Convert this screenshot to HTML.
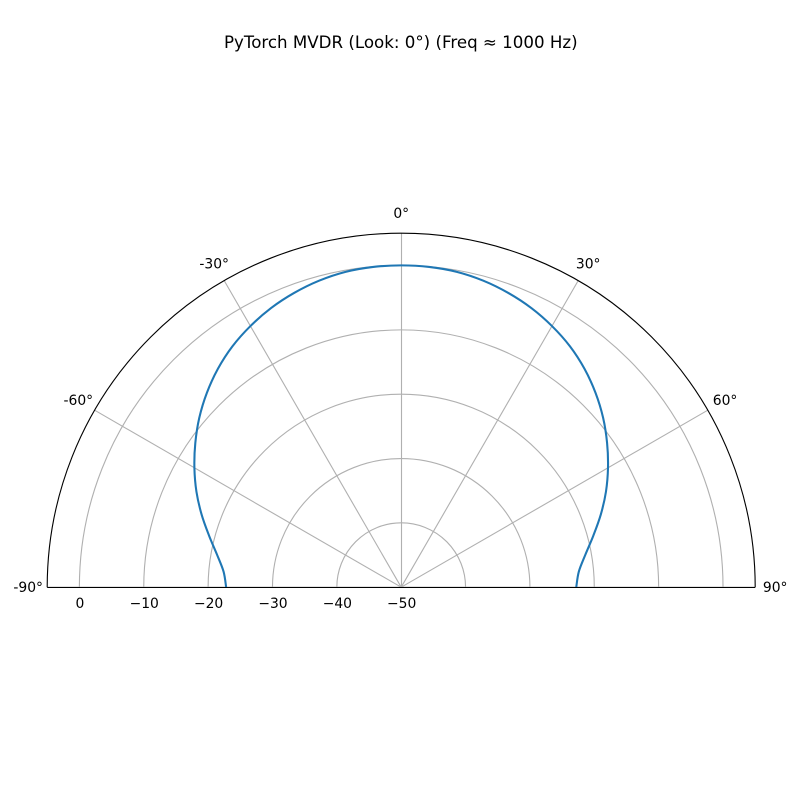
<!DOCTYPE html>
<html lang="en">
<head>
<meta charset="utf-8">
<title>PyTorch MVDR Beam Pattern</title>
<style>
html,body{margin:0;padding:0;background:#fff;width:800px;height:800px;overflow:hidden}
svg{display:block}
text{font-family:"DejaVu Sans","Liberation Sans",sans-serif;fill:#000}
</style>
</head>
<body>
<svg id="chart" xmlns="http://www.w3.org/2000/svg" width="800" height="800" viewBox="0 0 800 800">
<rect x="0" y="0" width="800" height="800" fill="#ffffff"></rect>
<text x="400.8" y="48" font-size="16.67" text-anchor="middle">PyTorch MVDR (Look: 0°) (Freq ≈ 1000 Hz)</text>
<g id="grid-layer"></g>
<g id="series-layer"></g>
<g id="spine-layer"></g>
<g id="label-layer"></g>
</svg>
<script>
const angleDeg = [-90,-85,-80,-75,-70,-65,-60,-55,-50,-45,-40,-35,-30,-25,-20,-15,-10,-5,0,5,10,15,20,25,30,35,40,45,50,55,60,65,70,75,80,85,90];
const gainDb = [-22.8,-22.3,-20.95,-19.1,-17,-14.9,-12.9,-10.95,-9.05,-7.3,-5.7,-4.3,-3.15,-2.15,-1.35,-0.7,-0.25,-0.05,0,-0.05,-0.25,-0.7,-1.35,-2.15,-3.15,-4.3,-5.7,-7.3,-9.05,-10.95,-12.9,-14.9,-17,-19.1,-20.95,-22.3,-22.8];
const radialTicks = [-50,-40,-30,-20,-10,0];
const angleTicks = [-90,-60,-30,0,30,60,90];

const rMin = -50, rMax = 5;
const cx = 401.2, cy = 587.2, outerR = 354;
const NS = 'http://www.w3.org/2000/svg';

function rScale(db){ return (db - rMin) / (rMax - rMin) * outerR; }
function polarX(deg, db){ return cx + rScale(db) * Math.sin(deg * Math.PI / 180); }
function polarY(deg, db){ return cy - rScale(db) * Math.cos(deg * Math.PI / 180); }
function make(tag, parent, attrs){
  const el = document.createElementNS(NS, tag);
  for (const k in attrs) el.setAttribute(k, attrs[k]);
  parent.appendChild(el);
  return el;
}
function arcPath(db){
  const r = rScale(db);
  return 'M' + polarX(-90, db) + ' ' + polarY(-90, db) + ' A' + r + ' ' + r + ' 0 0 1 ' + polarX(90, db) + ' ' + polarY(90, db);
}

const grid = document.getElementById('grid-layer');
const series = document.getElementById('series-layer');
const spines = document.getElementById('spine-layer');
const labels = document.getElementById('label-layer');

radialTicks.forEach(function(t){
  if (t === rMin) return;
  const el = make('path', grid, {d: arcPath(t), fill: 'none', stroke: '#b0b0b0', 'stroke-width': 1.11});
  
  
});
angleTicks.forEach(function(a){
  const el = make('line', grid, {x1: a === 0 ? 401.5 : cx, y1: cy, x2: a === 0 ? 401.5 : polarX(a, rMax), y2: polarY(a, rMax), stroke: '#b0b0b0', 'stroke-width': 1.11});
  
  
});

const pts = angleDeg.map(function(a, i){ return [polarX(a, gainDb[i]), polarY(a, gainDb[i])]; });
let d = 'M' + pts[0][0] + ' ' + pts[0][1];
for (let i = 0; i < pts.length - 1; i++) {
  const p0 = pts[Math.max(i - 1, 0)], p1 = pts[i], p2 = pts[i + 1], p3 = pts[Math.min(i + 2, pts.length - 1)];
  d += ' C' + (p1[0] + (p2[0] - p0[0]) / 6) + ' ' + (p1[1] + (p2[1] - p0[1]) / 6) + ' ' +
       (p2[0] - (p3[0] - p1[0]) / 6) + ' ' + (p2[1] - (p3[1] - p1[1]) / 6) + ' ' + p2[0] + ' ' + p2[1];
}
const curve = make('path', series, {d: d, fill: 'none', stroke: '#1f77b4', 'stroke-width': 2.08, 'stroke-linejoin': 'round'});



const outerSpine = make('path', spines, {d: arcPath(rMax), fill: 'none', stroke: '#000', 'stroke-width': 1.11});


const baseSpine = make('line', spines, {x1: cx - outerR, y1: 587.5, x2: cx + outerR, y2: 587.5, stroke: '#000', 'stroke-width': 1.11});



radialTicks.forEach(function(t){
  const el = make('text', labels, {x: polarX(-90, t) + 0.5, y: 608, 'font-size': 13.89, 'text-anchor': 'middle'});
  el.textContent = String(t).replace('-', '\u2212');
  
  
});
angleTicks.forEach(function(a){
  const rad = a * Math.PI / 180;
  const lx = polarX(a, rMax) + Math.sin(rad) * 20 + (a < -30 ? 1 : 0);
  const ly = polarY(a, rMax) - Math.cos(rad) * 20;
  const el = make('text', labels, {x: lx, y: ly + 5, 'font-size': 13.89, 'text-anchor': 'middle'});
  el.textContent = a + '\u00B0';
  
  
});
</script>
</body>
</html>
